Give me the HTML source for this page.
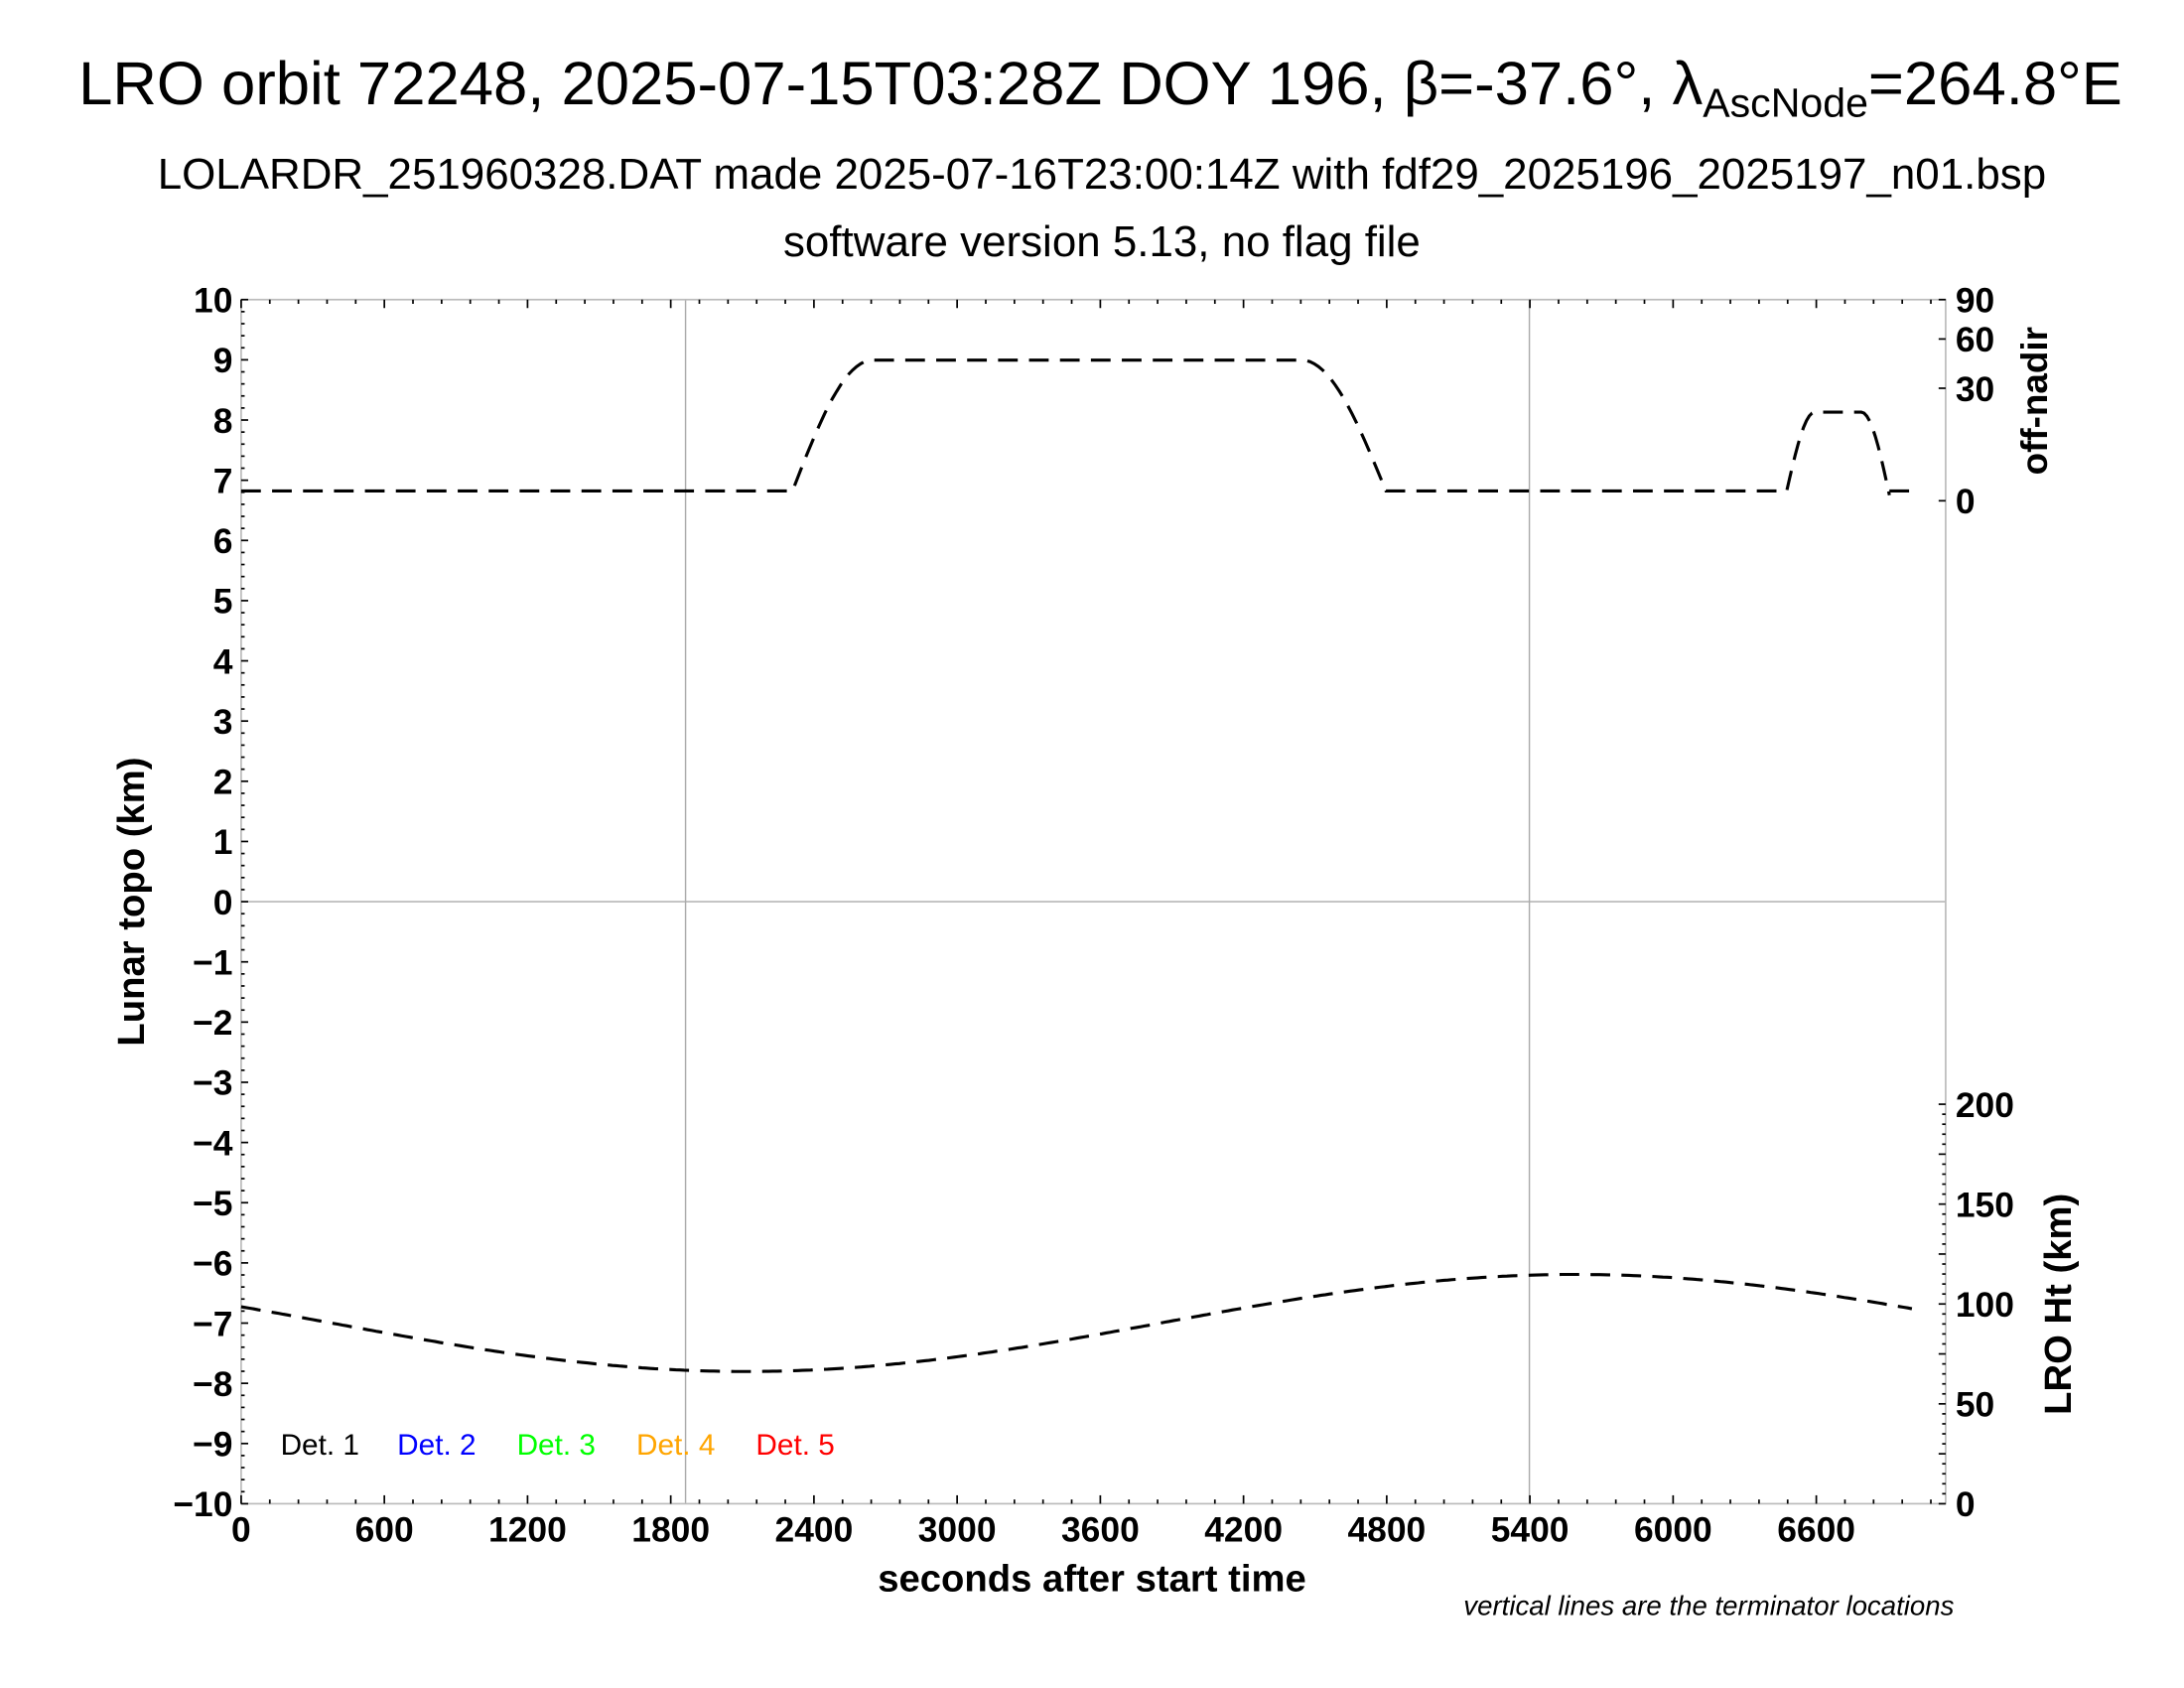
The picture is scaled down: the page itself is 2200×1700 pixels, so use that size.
<!DOCTYPE html>
<html><head><meta charset="utf-8"><style>
html,body{margin:0;padding:0;background:#fff}
svg{display:block}
text{font-family:"Liberation Sans",Arial,sans-serif}
</style></head><body>
<svg id="s" xmlns="http://www.w3.org/2000/svg" width="2200" height="1700" viewBox="0 0 1552 1200">
<rect width="1552" height="1200" fill="#fff"/>
<text x="782" y="74" font-size="43.5" text-anchor="middle">LRO orbit 72248, 2025-07-15T03:28Z DOY 196, β=-37.6°, λ<tspan font-size="29" dy="9">AscNode</tspan><tspan dy="-9">=264.8°E</tspan></text>
<text x="783" y="134" font-size="31" text-anchor="middle">LOLARDR_251960328.DAT made 2025-07-16T23:00:14Z with fdf29_2025196_2025197_n01.bsp</text>
<text x="783" y="182" font-size="31" text-anchor="middle">software version 5.13, no flag file</text>
<g id="g"></g>
<text x="776" y="1131" font-size="27" font-weight="bold" text-anchor="middle">seconds after start time</text>
<text x="1389" y="1148" font-size="19.5" font-style="italic" text-anchor="end">vertical lines are the terminator locations</text>
<text transform="translate(102,641) rotate(-90)" font-size="27" font-weight="bold" text-anchor="middle">Lunar topo (km)</text>
<text transform="translate(1455,285) rotate(-90)" font-size="26" font-weight="bold" text-anchor="middle">off-nadir</text>
<text transform="translate(1472,927) rotate(-90)" font-size="27" font-weight="bold" text-anchor="middle">LRO Ht (km)</text>
<text x="199" y="1034" font-size="21" fill="#000">Det. 1</text>
<text x="282" y="1034" font-size="21" fill="#0000ff">Det. 2</text>
<text x="367" y="1034" font-size="21" fill="#00ff00">Det. 3</text>
<text x="452" y="1034" font-size="21" fill="#ffa500">Det. 4</text>
<text x="537" y="1034" font-size="21" fill="#ff0000">Det. 5</text>
</svg>
<script>
var g=document.getElementById('g'),h='';
var L=171,R=1383,T=213,B=1069;
function ln(a,b,c,d,s,w){h+='<line x1="'+a+'" y1="'+b+'" x2="'+c+'" y2="'+d+'" stroke="'+s+'" stroke-width="'+w+'"/>';}
function tx(x,y,t,anc,sz){h+='<text x="'+x+'" y="'+y+'" font-size="'+(sz||25)+'" font-weight="bold" text-anchor="'+anc+'">'+t+'</text>';}
ln(487,T,487,B,'#aaa',1);ln(1087,T,1087,B,'#aaa',1);
ln(L,641,R,641,'#aaa',1);
h+='<rect x="'+L+'" y="'+T+'" width="'+(R-L)+'" height="'+(B-T)+'" fill="none" stroke="#bbb" stroke-width="1.2"/>';
for(var i=0;i<=100;i++){var y=T+i*(B-T)/100;var big=i%5==0;ln(L,y,L+(big?5:2.5),y,'#000',1.2);}
for(var v=10;v>=-10;v--){var y=T+(10-v)*(B-T)/20;tx(165,y+9,v<0?'\u2212'+(-v):v,'end');}
var sx=0.1697;
for(var s=0;s<=7142;s+=120){var x=L+s*sx;var big=s%600==0;ln(x,B,x,B-(big?6:3),'#000',1.2);ln(x,T,x,T+(big?6:3),'#000',1.2);}
for(var s=0;s<=6600;s+=600){tx(L+s*sx,1096,s,'middle');}
for(var i=0;i<=40;i++){var y=B-i*(B-785)/40;ln(R,y,R-(i%5==0?5:2.5),y,'#000',1.2);}
[[0,1069],[50,998],[100,927],[150,856],[200,785]].forEach(function(a){tx(1390,a[1]+9,a[0],'start');});
[[0,356],[30,276],[60,241],[90,213]].forEach(function(a){tx(1390,a[1]+9,a[0],'start');ln(R,a[1],R-5,a[1],'#000',1.2);});
var p='';for(var x=171;x<=1360;x+=3){var y=940.5+34.5*Math.cos((x-530)/1180*2*Math.PI);p+=(p?'L':'M')+x+','+y.toFixed(1);}
h+='<path d="'+p+'" fill="none" stroke="#000" stroke-width="2.2" stroke-dasharray="14,8"/>';
var q='M171,349L563,349',t,x,y,k;
for(k=0;k<=20;k++){t=k/20;x=563+57*t;y=349-93*Math.sin(t*Math.PI/2);q+='L'+x.toFixed(1)+','+y.toFixed(1);}
q+='L925,256';
for(k=0;k<=20;k++){t=k/20;x=925+60*t;y=256+93*(1-Math.cos(t*Math.PI/2));q+='L'+x.toFixed(1)+','+y.toFixed(1);}
q+='L1270,349';
for(k=0;k<=10;k++){t=k/10;x=1270+20*t;y=349-56*Math.sin(t*Math.PI/2);q+='L'+x.toFixed(1)+','+y.toFixed(1);}
q+='L1323,293';
for(k=0;k<=10;k++){t=k/10;x=1323+20*t;y=293+59*(1-Math.cos(t*Math.PI/2));q+='L'+x.toFixed(1)+','+y.toFixed(1);}
q+='M1343,349L1360,349';
h+='<path d="'+q+'" fill="none" stroke="#000" stroke-width="2.2" stroke-dasharray="14,8"/>';
g.innerHTML=h;
</script>
</body></html>
